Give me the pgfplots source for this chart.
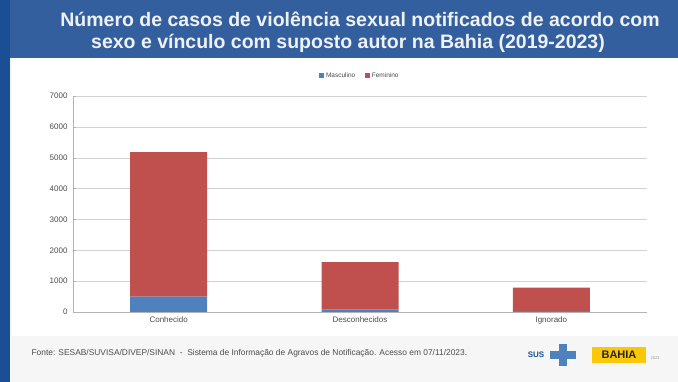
\documentclass[border=0pt]{standalone}
\usepackage{pgfplots}
\pgfplotsset{compat=1.18}
\usepackage{fontspec}
\setmainfont{Liberation Sans}
\definecolor{band}{HTML}{345F9E}
\definecolor{strip}{HTML}{1B4F94}
\definecolor{masc}{HTML}{4F81BD}
\definecolor{fem}{HTML}{C0504D}
\definecolor{panel}{HTML}{F6F6F6}
\definecolor{titletext}{HTML}{EEF2F7}
\begin{document}
\begin{tikzpicture}[x=1pt,y=1pt]
\fill[panel] (0pt,0pt) rectangle (678pt,-382pt);
\fill[band] (0pt,0pt) rectangle (678pt,-58pt);
\fill[strip] (0pt,0pt) rectangle (10pt,-382pt);
\fill[white] (12pt,-58pt) rectangle (678pt,-336pt);
\node[titletext,font=\fontsize{19.5}{22}\selectfont\bfseries] at (360pt,-19pt) {Número de casos de violência sexual notificados de acordo com};
\node[titletext,font=\fontsize{19.5}{22}\selectfont\bfseries] at (348pt,-43pt) {sexo e vínculo com suposto autor na Bahia (2019-2023)};
\begin{axis}[
  at={(73pt,-312pt)}, anchor=south west,
  width=574pt, height=216pt, scale only axis,
  ybar stacked, bar width=77pt,
  xmin=-0.5, xmax=2.5, ymin=0, ymax=7000,
  ytick={0,1000,...,7000},
  xtick={0,1,2}, xticklabels={Conhecido,Desconhecidos,Ignorado},
  extra x ticks={0.5,1.5}, extra x tick labels={},
  extra x tick style={major tick length=3pt, tick style={gray!60}, grid=none},
  ymajorgrids, grid style={gray!35},
  axis x line*=bottom, axis y line*=left,
  axis line style={gray!60},
  x tick style={draw=none}, y tick style={gray!60},
  major tick length=3pt,
  tick label style={font=\fontsize{8}{9}\selectfont, text=black!70},
  /pgf/number format/assume math mode=true,
  /pgf/number format/1000 sep={},
  yticklabel style={xshift=-2pt},
  xticklabel style={yshift=-1pt},
  legend style={at={(0.5,1.095)}, anchor=center, draw=none, fill=none,
    font=\fontsize{6.5}{7}\selectfont, text=black!70, legend columns=2,
    /tikz/every even column/.append style={column sep=8pt}},
  legend image code/.code={\draw[#1,draw=none] (0cm,-0.08cm) rectangle (0.16cm,0.08cm);},
]
\addplot[fill=masc, draw=none] coordinates {(0,500) (1,80) (2,40)};
\addplot[fill=fem, draw=none] coordinates {(0,4680) (1,1540) (2,750)};
\legend{Masculino,Feminino}
\end{axis}
\node[anchor=west, text=black!70, font=\fontsize{8.4}{9}\selectfont] at (28pt,-353pt) {Fonte: SESAB/SUVISA/DIVEP/SINAN \ - \ Sistema de Informação de Agravos de Notificação. Acesso em 07/11/2023.};
% logos
\node[text=strip, font=\fontsize{8}{9}\selectfont\bfseries] at (536pt,-355pt) {SUS};
\fill[masc] (550pt,-351pt) rectangle (576pt,-359pt);
\fill[masc] (559pt,-344pt) rectangle (567pt,-366pt);
\fill[yellow!60!orange] (592pt,-347pt) rectangle (646pt,-363pt);
\node[text=black!85, font=\fontsize{11}{12}\selectfont\bfseries] at (619pt,-355pt) {BAHIA};
\node[text=black!40, font=\fontsize{4}{5}\selectfont] at (655pt,-358pt) {2023};
\end{tikzpicture}
\end{document}
